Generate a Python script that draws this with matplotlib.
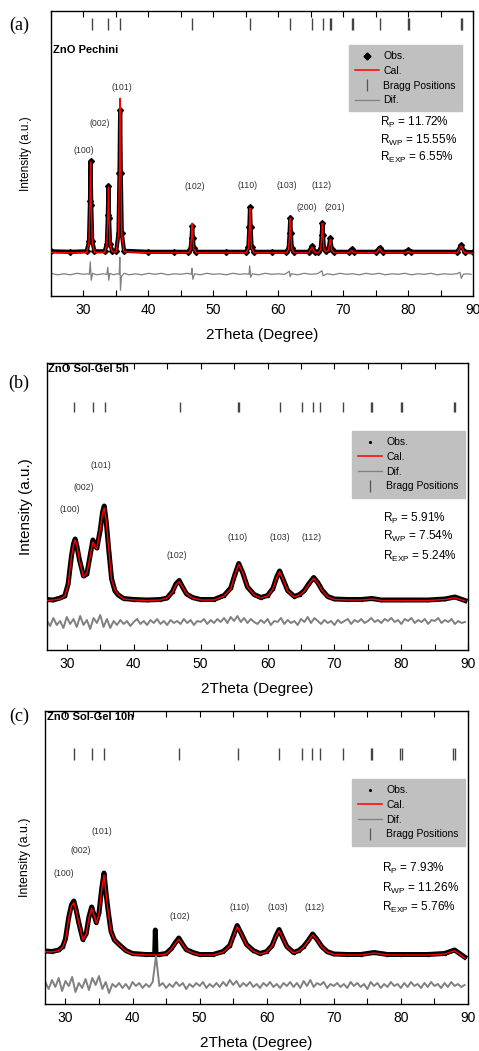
import numpy as np
import matplotlib
matplotlib.use('Agg')
import matplotlib.pyplot as plt
from matplotlib.lines import Line2D
from matplotlib.ticker import MultipleLocator

plt.rcParams['font.family'] = ['Liberation Sans', 'DejaVu Sans']
plt.rcParams['mathtext.default'] = 'regular'

# ---------------- (a) ZnO Pechini ----------------
tt_a = [25.0, 28.0,
        30.5, 30.85, 31.0, 31.1, 31.2, 31.35, 31.7,
        33.25, 33.6, 33.75, 33.85, 33.95, 34.1, 34.45,
        35.05, 35.4, 35.55, 35.65, 35.75, 35.9, 36.25,
        40.0, 44.0,
        46.15, 46.5, 46.65, 46.75, 46.85, 47.0, 47.35,
        52.0,
        55.05, 55.4, 55.55, 55.65, 55.75, 55.9, 56.25,
        59.0,
        61.25, 61.6, 61.75, 61.85, 61.95, 62.1, 62.45,
        64.7, 65.2, 65.7,
        66.2, 66.55, 66.7, 66.8, 66.9, 67.05, 67.4,
        67.75, 68.0, 68.25, 68.6,
        70.9, 71.3, 71.7,
        75.1, 75.6, 76.1,
        79.6, 80.05, 80.5,
        87.6, 88.15, 88.7, 90.0]
calc_a = [1, 0.5,
          1, 11, 50, 91, 50, 11, 1,
          1, 8, 36, 66, 36, 8, 1.5,
          1.5, 19, 85, 155, 85, 19, 1.5,
          0.5, 0.5,
          0.5, 4, 16, 30, 16, 4, 0.5,
          0.5,
          0.5, 5, 25, 45, 25, 5, 0.5,
          0.5,
          0.5, 4, 19, 35, 19, 4, 0.5,
          0.5, 6, 0.5,
          0.5, 4, 17, 30, 17, 4, 1.5,
          3, 14, 3, 0.5,
          0.5, 3, 0.5,
          0.5, 5, 0.5,
          0.5, 2, 0.5,
          0.5, 7.5, 0.5, 0]
obs_a = [2, 1.5,
         2, 12, 52, 92, 48, 12, 2,
         2, 9, 38, 67, 35, 9, 2.5,
         2.5, 20, 80, 143, 80, 20, 2.5,
         1.5, 1.5,
         1.5, 5, 15, 27, 15, 5, 1.5,
         1.5,
         1.5, 6, 26, 46, 26, 6, 1.5,
         1.5,
         1.5, 5, 20, 35, 20, 5, 1.5,
         1.5, 7, 1.5,
         1.5, 5, 18, 30, 18, 5, 2.5,
         4, 15, 4, 1.5,
         1.5, 4, 1.5,
         1.5, 5.5, 1.5,
         1.5, 3, 1.5,
         1.5, 8, 1.5, 1]
tt_dif_a = [25, 26, 27, 28, 29, 30, 30.6, 30.9, 31.05, 31.2, 31.4, 32.0, 33.0, 33.6,
            33.75, 33.9, 34.05, 34.6, 35.2, 35.5, 35.6, 35.7, 35.85, 36.3, 37, 38, 39,
            40, 41, 42, 43, 44, 45, 46, 46.6, 46.7, 46.85, 47.1, 48, 49, 50, 51, 52, 53,
            54, 55, 55.5, 55.6, 55.75, 56.0, 57, 58, 59, 60, 61, 61.7, 61.85, 62.0, 63,
            64, 65, 66, 66.75, 66.9, 67.5, 68.5, 69.5, 70.5, 71.5, 72.5, 73.5, 74.5,
            75.5, 76.5, 77.5, 78.5, 79.5, 80.5, 81.5, 82.5, 83.5, 84.5, 85.5, 86.5,
            87.5, 88.0, 88.2, 88.5, 89.0, 89.7]
dif_a = [-20, -21.5, -20.5, -21.5, -20, -21, -20.5, -21, -8.5, -27, -20, -21.5, -20.5, -21,
         -14, -27, -20, -21.5, -20.5, -21, -4, -37, -23, -20, -21.5, -20.5, -21.5,
         -20, -21, -20, -21.5, -20.5, -21, -20, -21, -15, -26, -20.5, -21.5, -20, -21, -20.5, -21.5, -20,
         -21, -20.5, -21, -12.5, -24, -20.5, -21.5, -20, -21, -20.5, -21, -18, -23.5, -20.5, -21.5,
         -20, -21, -20.5, -17.5, -22.5, -20.5, -21.5, -20, -21, -20.5, -21.5, -20, -21,
         -20, -21.5, -20.5, -21, -20, -21.5, -20.5, -21, -20, -21.5, -20.5, -21,
         -20.5, -19, -25, -21, -20.5, -21]
bragg_a = [31.27, 33.83, 35.63, 46.77, 55.66, 61.83, 65.26, 66.86, 67.93, 68.08,
           71.35, 71.52, 75.69, 79.98, 80.14, 88.08, 88.26]
hkl_a = ['(100)', '(002)', '(101)', '(102)', '(110)', '(103)', '(112)', '(200)', '(201)']
hkl_x_a = [30.1, 32.55, 35.94, 47.2, 55.35, 61.37, 66.75, 64.45, 68.75]
hkl_y_a = [103, 130, 166, 67, 68, 68, 68, 46, 46]
r_a = ['11.72%', '15.55%', '6.55%']

# ---------------- (b) ZnO Sol-Gel 5h ----------------
tt_b = [27, 28, 29, 29.7, 30.2, 30.7, 31.0, 31.25, 31.5, 31.9,
        32.5, 33.0, 33.5, 33.9, 34.2, 34.5, 35.0, 35.35, 35.6, 35.9,
        36.3, 36.7, 37.2, 37.7, 38.5, 40, 42, 44, 45, 45.8,
        46.3, 46.8, 47.3, 47.9, 48.8, 50, 52, 53.5, 54.5, 55.1,
        55.7, 56.3, 57, 58, 59, 60, 60.8, 61.4, 61.8, 62.3,
        63, 64, 64.8, 65.5, 66.2, 66.9, 67.5, 68.2, 69, 70,
        72, 74, 75.6, 77, 80, 84, 86.5, 88, 89.5]
calc_b = [0.5, 1, 2, 5, 16, 44, 56, 61, 56, 40,
          24, 28, 45, 59, 55, 52, 72, 88, 93, 80,
          50, 21, 11, 6, 2, 1, 0.5, 1, 3, 9,
          16, 19.3, 14, 7, 3, 1, 1, 5, 12, 26,
          36.7, 28, 14, 6, 3, 5, 12, 24, 29.3, 22,
          10, 4, 6, 10, 17, 22.7, 18, 10, 4, 1.5,
          1, 1, 2, 0.5, 0.5, 0.5, 1.5, 3.3, 0]
obs_b = [1.5, 1, 3, 5, 17, 45, 57, 62, 55, 41,
         25, 27, 46, 61, 56, 53, 71, 89, 95, 79,
         49, 22, 10, 6, 2.5, 1.5, 1, 1.5, 3, 9.5,
         17, 20.5, 14, 7, 3.5, 1.5, 1.5, 5.5, 13, 26,
         37.5, 28, 14, 6.5, 3.5, 5.5, 12.5, 24.5, 30, 22,
         10.5, 4.5, 6.5, 10.5, 17.5, 23.5, 18.5, 10.5, 4.5, 2,
         1.5, 1.5, 2.5, 1, 1, 1, 2, 4, 0.5]
# difference curve sampled every 0.5 deg from 27 to 89.5
tt_dif_bc = np.arange(27.0, 89.75, 0.5)
dif_b = [-19, -25, -17, -24, -20, -27, -16, -23, -18, -26, -15, -24, -19, -28, -17, -22, -14, -26, -18, -27, -20,
         -24, -19, -23, -20, -25, -21, -18, -23, -20, -24, -19, -22, -18, -23, -20, -24, -19, -22, -20, -23,
         -18, -22, -19, -24, -20, -21, -18, -23, -19, -22,
         -18, -21, -17, -22, -16, -20, -15, -21, -17, -22, -18, -21,
         -23, -19, -22, -18, -24, -20, -21, -17, -23, -19, -22, -20,
         -24, -18, -21, -16, -22, -17, -20, -23, -19, -22, -20, -24,
         -19, -22, -20, -18, -23, -19, -21, -18, -22, -20, -17, -21, -19, -22, -18, -20, -17, -21, -19, -23,
         -18, -20, -17, -22, -19, -21, -18, -23, -19, -20, -17, -22, -19, -21, -18, -23, -20, -22, -21]
bragg_b = [31.15, 33.87, 35.65, 46.85, 55.55, 55.72, 61.8, 65.22, 66.73, 67.88,
           71.35, 75.52, 75.68, 79.9, 80.06, 87.85, 88.03]
hkl_b = ['(100)', '(002)', '(101)', '(102)', '(110)', '(103)', '(112)']
hkl_x_b = [30.38, 32.58, 35.1, 46.43, 55.55, 61.77, 66.6]
hkl_y_b = [91, 113.7, 136, 45, 63.7, 64, 64]
r_b = ['5.91%', '7.54%', '5.24%']

# ---------------- (c) ZnO Sol-Gel 10h ----------------
tt_c = [27, 28, 29, 29.6, 30.0, 30.5, 30.9, 31.25, 31.6, 32.0,
        32.6, 33.1, 33.5, 33.9, 34.2, 34.6, 35.0, 35.4, 35.75, 36.15,
        36.5, 36.8, 37.3, 38, 39, 40, 42, 44, 45, 45.8,
        46.4, 46.9, 47.4, 48.0, 49, 50, 52, 53.5, 54.5, 55.1,
        55.6, 56.2, 57, 58, 59, 60, 60.8, 61.4, 61.85, 62.3,
        63, 64, 64.8, 65.5, 66.2, 66.85, 67.5, 68.2, 69, 70,
        72, 74, 76, 78, 80, 84, 86.5, 88, 89.5]
calc_c = [4.3, 4, 5.5, 9, 16, 38, 50, 53.3, 45, 33,
          16, 22, 38, 47.7, 42, 33, 42, 66, 81, 56,
          38, 24, 16, 11, 5, 2, 1, 1, 2, 7,
          13, 16.7, 12, 6, 3, 1, 1, 4, 10, 21,
          29.3, 22, 11, 5, 2, 4, 10, 20, 25.3, 19,
          9, 3, 5, 9, 15, 21, 16, 9, 4, 1.5,
          1, 1, 3, 1, 1, 1, 2, 5.3, -2]
tt_obs_c = [27, 28, 29, 29.6, 30.0, 30.5, 30.9, 31.25, 31.6, 32.0,
            32.6, 33.1, 33.5, 33.9, 34.2, 34.6, 35.0, 35.4, 35.75, 36.15,
            36.5, 36.8, 37.3, 38, 39, 40, 42, 43.3, 43.4, 43.5,
            44, 45, 45.8, 46.4, 46.9, 47.4, 48.0, 49, 50, 52,
            53.5, 54.5, 55.1, 55.6, 56.2, 57, 58, 59, 60, 60.8,
            61.4, 61.85, 62.3, 63, 64, 64.8, 65.5, 66.2, 66.85, 67.5,
            68.2, 69, 70, 72, 74, 76, 78, 80, 84, 86.5,
            88, 89.5]
obs_c = [5, 4.5, 6, 9.5, 17, 39, 51, 55, 46, 33,
         16.5, 22.5, 39, 49, 42.5, 33.5, 43, 67, 83, 57,
         38.5, 24.5, 16, 11.5, 5.5, 2.5, 1.5, 1.5, 26, 1.5,
         1.5, 2.5, 7.5, 13.5, 18, 12.5, 6.5, 3.5, 1.5, 1.5,
         4.5, 10.5, 21.5, 30.5, 22.5, 11.5, 5.5, 2.5, 4.5, 10.5,
         20.5, 26.5, 19.5, 9.5, 3.5, 5.5, 9.5, 15.5, 22, 16.5,
         9.5, 4.5, 2, 1.5, 1.5, 3.5, 1.5, 1.5, 1.5, 2.5,
         6, -1]
dif_c = [-26, -33, -24, -31, -22, -35, -25, -30, -21, -36, -27, -32, -23, -34, -22, -29, -20, -33, -26, -37, -28,
         -31, -27, -32, -28, -33, -26, -30, -27, -32, -28, -31, -26, 0, -30, -27, -32, -28, -31, -26, -30,
         -27, -33, -28, -31, -27, -30, -26, -32, -28, -31,
         -27, -31, -26, -30, -24, -29, -25, -31, -27, -30, -26, -31,
         -28, -32, -27, -30, -26, -31, -28, -32, -27, -30, -26, -31,
         -27, -32, -25, -30, -24, -31, -27, -29, -26, -32, -28, -30,
         -27, -31, -28, -32, -26, -30, -27, -31, -28, -33, -26, -30, -27, -32, -28, -31, -26, -30, -28, -32,
         -27, -31, -26, -30, -28, -32, -27, -31, -26, -30, -28, -32, -27, -31, -26, -30, -28, -31, -29]
bragg_c = [31.28, 33.9, 35.75, 46.95, 55.67, 61.87, 65.3, 66.8, 67.94,
           71.4, 75.56, 75.72, 79.93, 80.09, 87.82, 88.0]
hkl_c = ['(100)', '(002)', '(101)', '(102)', '(110)', '(103)', '(112)']
hkl_x_c = [29.83, 32.27, 35.5, 47.07, 56.0, 61.7, 67.2]
hkl_y_c = [82, 105.3, 124.3, 39.3, 48.3, 48, 48]
r_c = ['7.93%', '11.26%', '5.76%']

# ---------------- figure ----------------
W, H = 479, 1051
fig = plt.figure(figsize=(W / 100, H / 100), dpi=100)


def box(l, r, t, b):
    return [l / W, 1 - b / H, (r - l) / W, (b - t) / H]


ax_a = fig.add_axes(box(51, 473, 11, 296))
ax_b = fig.add_axes(box(46.7, 468.3, 363.3, 650))
ax_c = fig.add_axes(box(45.3, 468, 710.7, 1004))


def style(ax, xmin, ylim, tick_fs, ylab_fs, ylab_pad):
    ax.set_xlim(xmin, 90)
    ax.set_ylim(*ylim)
    ax.set_yticks([])
    ax.xaxis.set_major_locator(MultipleLocator(10))
    ax.xaxis.set_minor_locator(MultipleLocator(5))
    ax.tick_params(axis='x', which='both', direction='in', top=True, length=4,
                   width=0.8, labelsize=tick_fs, pad=5)
    ax.set_xlabel('2Theta (Degree)', fontsize=11, labelpad=8)
    ax.set_ylabel('Intensity (a.u.)', fontsize=ylab_fs, labelpad=ylab_pad)
    for s in ax.spines.values():
        s.set_linewidth(1.0)


def legend(ax, obs_marker, obs_ms, order, anchor):
    h = {
        'Obs.': Line2D([], [], color='k', marker=obs_marker, ms=obs_ms, ls='none'),
        'Cal.': Line2D([], [], color='red', lw=1.1),
        'Bragg Positions': Line2D([], [], color='#555555', marker='|', ms=8, mew=0.9, ls='none'),
        'Dif.': Line2D([], [], color='#808080', lw=0.9),
    }
    leg = ax.legend([h[k] for k in order], order, loc='upper right', bbox_to_anchor=anchor,
                    fontsize=7.5, frameon=True, fancybox=False, borderaxespad=0,
                    handlelength=2.3, handletextpad=0.4, labelspacing=0.45, borderpad=0.6)
    leg.get_frame().set_facecolor('#c0c0c0')
    leg.get_frame().set_edgecolor('#c0c0c0')
    leg.get_frame().set_alpha(1)


def r_text(ax, x, ys, vals):
    for y, sub, v in zip(ys, ['P', 'WP', 'EXP'], vals):
        ax.text(x, y, 'R$_{%s}$ = %s' % (sub, v), fontsize=8.5, va='center', ha='left')


# (a)
ax = ax_a
ax.plot(tt_a, obs_a, color='k', lw=3.0, marker='D', ms=3.0, zorder=2)
ax.plot(tt_a, calc_a, color='red', lw=1.0, zorder=3)
ax.plot(tt_dif_a, dif_a, color='#808080', lw=0.9, zorder=2)
ax.vlines(bragg_a, 223.3, 235.3, color='#444444', lw=1.0)
for t, x, y in zip(hkl_a, hkl_x_a, hkl_y_a):
    ax.text(x, y, t, fontsize=6.3, color='#333333', ha='center', va='center')
style(ax, 25, (-42.7, 242.3), 10, 8.5, 14)
legend(ax, 'D', 3.5, ['Obs.', 'Cal.', 'Bragg Positions', 'Dif.'], (0.974, 0.881))
r_text(ax, 75.7, [131.3, 113.3, 96.3], r_a)
ax.text(0.004, 0.863, 'ZnO Pechini', transform=ax.transAxes, fontsize=8,
        fontweight='bold', va='center', ha='left')

# (b)
ax = ax_b
ax.plot(tt_b, obs_b, color='k', lw=3.6, marker='.', ms=3, zorder=2)
ax.plot(tt_b, calc_b, color='red', lw=1.0, zorder=3)
ax.plot(tt_dif_bc, dif_b, color='#808080', lw=1.4, zorder=2)
ax.vlines(bragg_b, 189.3, 199.3, color='#444444', lw=1.0)
for t, x, y in zip(hkl_b, hkl_x_b, hkl_y_b):
    ax.text(x, y, t, fontsize=6.3, color='#333333', ha='center', va='center')
style(ax, 27, (-49, 237.7), 10, 11, 10)
legend(ax, '.', 2.5, ['Obs.', 'Cal.', 'Dif.', 'Bragg Positions'], (0.992, 0.764))
r_text(ax, 77.2, [83, 65, 45], r_b)
ax.text(0.003, 0.997, 'ZnO Sol-Gel 5h', transform=ax.transAxes, fontsize=8,
        fontweight='bold', va='top', ha='left')

# (c)
ax = ax_c
ax.plot(tt_obs_c, obs_c, color='k', lw=3.6, marker='.', ms=3, zorder=2)
ax.plot(tt_c, calc_c, color='red', lw=1.0, zorder=3)
ax.plot(tt_dif_bc, dif_c, color='#808080', lw=1.4, zorder=2)
ax.vlines(bragg_c, 196, 207.7, color='#444444', lw=1.0)
for t, x, y in zip(hkl_c, hkl_x_c, hkl_y_c):
    ax.text(x, y, t, fontsize=6.3, color='#333333', ha='center', va='center')
style(ax, 27, (-48, 245.3), 10, 9, 10)
legend(ax, '.', 2.5, ['Obs.', 'Cal.', 'Dif.', 'Bragg Positions'], (0.993, 0.767))
r_text(ax, 77.2, [88, 68, 49], r_c)
ax.text(0.003, 0.997, 'ZnO Sol-Gel 10h', transform=ax.transAxes, fontsize=8,
        fontweight='bold', va='top', ha='left')

# panel letters
for lab, y in zip(['(a)', '(b)', '(c)'], [25, 383, 716]):
    fig.text(19 / W, 1 - y / H, lab, fontsize=13, family='Liberation Serif',
             ha='center', va='center')

fig.savefig('out.png', dpi=100)
